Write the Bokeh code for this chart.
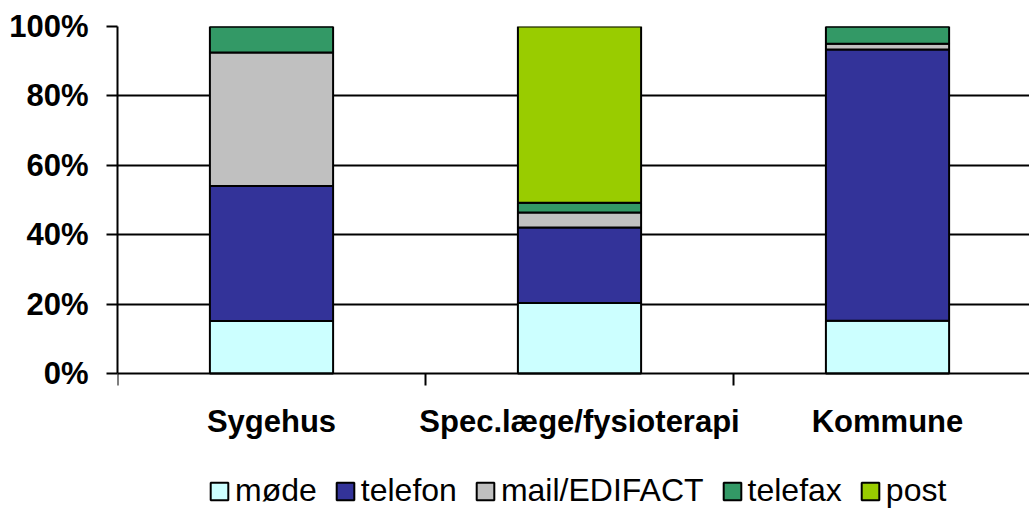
from bokeh.plotting import figure
from bokeh.models import (ColumnDataSource, FixedTicker, Range1d, Legend,
                          LegendItem, Grid, PrintfTickFormatter)
from bokeh.core.properties import value
from bokeh.embed import file_html
from bokeh.resources import INLINE

categories = ["Sygehus", "Spec.læge/fysioterapi", "Kommune"]
series_keys = ["mode", "telefon", "mail", "telefax", "post"]
series_labels = ["møde", "telefon", "mail/EDIFACT", "telefax", "post"]
mode = [15.1, 20.3, 15.2]
telefon = [38.9, 21.8, 78.2]
mail = [38.5, 4.3, 1.6]
telefax = [7.5, 2.8, 5.0]
post = [0.0, 50.8, 0.0]
colors = ["#CCFFFF", "#333399", "#C0C0C0", "#339966", "#99CC00"]
y_ticks = [0, 20, 40, 60, 80, 100]
boundary_ticks = [0, 1, 2, 3]

FONT = "Liberation Sans"

# layout constants (pixels)
PLOT_H = 347            # height of 0..100% band
BELOW = 136             # space below the 0% line
PX = 100.0 / PLOT_H     # data units per pixel
def below_px(px):
    return -px * PX

x_pos = [i + 0.5 for i in range(len(categories))]
src = ColumnDataSource(dict(x=x_pos, mode=mode, telefon=telefon, mail=mail,
                            telefax=telefax, post=post))

p = figure(frame_width=912, frame_height=PLOT_H + BELOW,
           x_range=Range1d(0, 2.961), y_range=Range1d(below_px(BELOW), 100),
           output_backend="svg", toolbar_location=None, x_axis_location=None,
           min_border_top=26, min_border_left=117, min_border_right=0, min_border_bottom=0)
p.outline_line_color = None
p.background_fill_color = "white"
p.border_fill_color = "white"

# grid
p.ygrid.ticker = FixedTicker(ticks=[20, 40, 60, 80])
p.ygrid.grid_line_color = "black"
p.ygrid.grid_line_width = 2
p.xgrid.visible = False
top_grid = Grid(dimension=1, ticker=FixedTicker(ticks=[100]), grid_line_color="#808080",
                grid_line_width=2)
p.add_layout(top_grid)

renderers = p.vbar_stack(series_keys, x="x", width=0.4, source=src, color=colors,
                         line_color="black", line_width=2)

# x axis line and boundary ticks
p.segment(x0=[0], y0=[0], x1=[boundary_ticks[-1]], y1=[0], line_color="black", line_width=2)
p.segment(x0=boundary_ticks, y0=[0] * len(boundary_ticks), x1=boundary_ticks,
          y1=[below_px(12)] * len(boundary_ticks), line_color="black", line_width=2)

# category labels
p.text(x=x_pos, y=[below_px(48)] * len(x_pos), text=categories, text_align="center",
       text_baseline="middle", text_font=value(FONT), text_font_style="bold",
       text_font_size="31px", text_color="black")

# y axis
ya = p.yaxis[0]
ya.bounds = (0, 100)
ya.ticker = FixedTicker(ticks=y_ticks)
ya.formatter = PrintfTickFormatter(format="%d%%")
ya.axis_line_width = 2
ya.axis_line_color = "black"
ya.major_tick_line_width = 2
ya.major_tick_out = 11
ya.major_tick_in = 0
ya.minor_tick_line_color = None
ya.major_label_text_font = FONT
ya.major_label_text_font_style = "bold"
ya.major_label_text_font_size = "31px"
ya.major_label_text_color = "black"
ya.major_label_standoff = 18

legend = Legend(items=[LegendItem(label=l, renderers=[r]) for l, r in zip(series_labels, renderers)],
                orientation="horizontal", location=(91, 0), border_line_color=None,
                background_fill_alpha=0, label_text_font=FONT, label_text_font_size="32px",
                label_text_color="black",
                glyph_width=22, glyph_height=22, spacing=17, label_standoff=5,
                padding=0, margin=0)
p.add_layout(legend, "center")

open("out.html", "w").write(file_html(p, INLINE))
